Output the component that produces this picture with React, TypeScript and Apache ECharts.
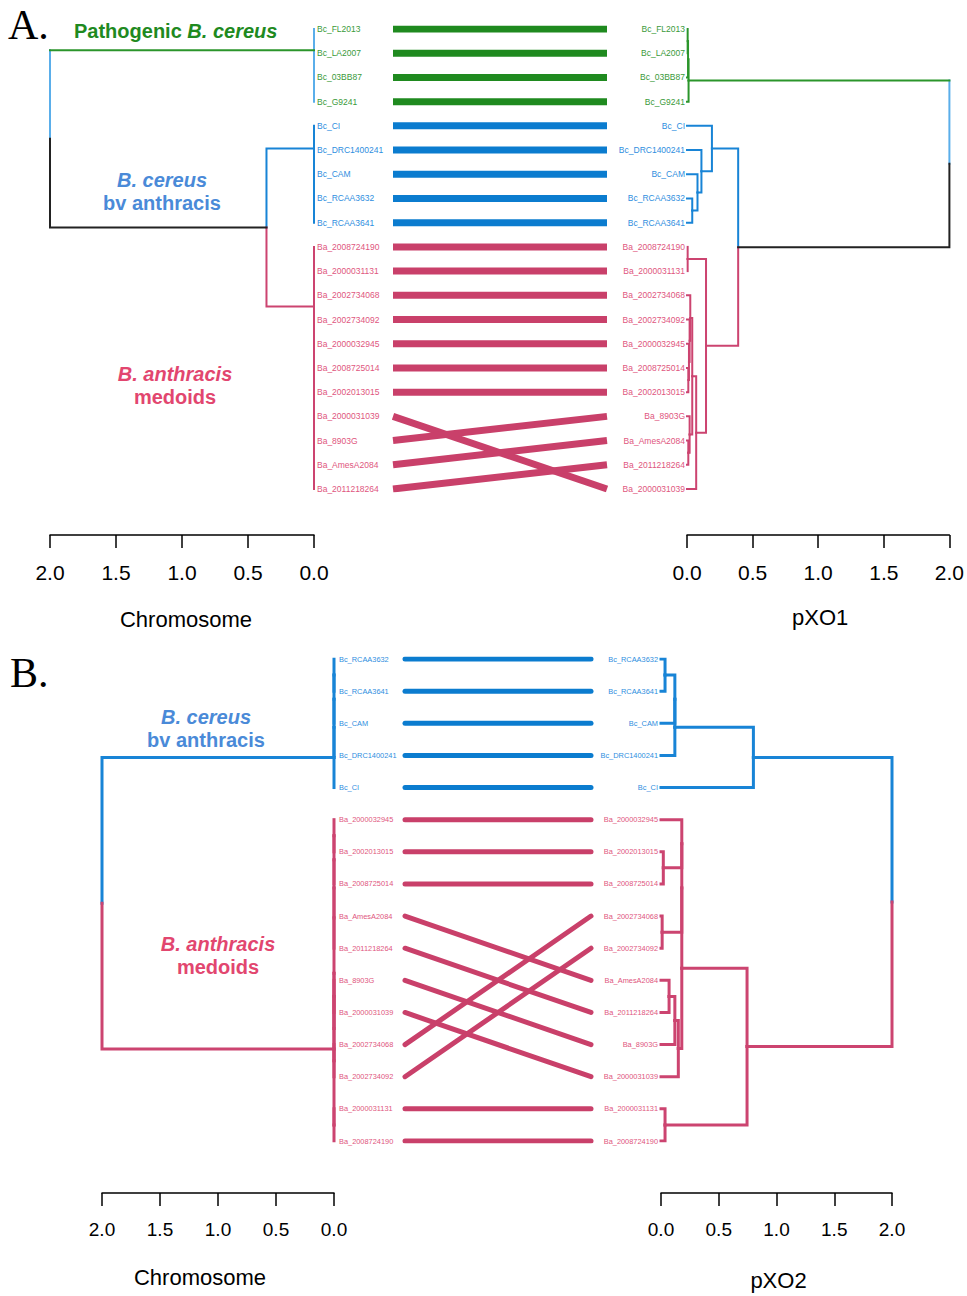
import React, { useEffect, useRef } from "react";
import * as echarts from "echarts";

const FONT = "'Liberation Sans', Arial, Helvetica, sans-serif";

// ---- leaf groups ----
const pathogenicBc = ["Bc_FL2013", "Bc_LA2007", "Bc_03BB87", "Bc_G9241"];
const bcBvAnthracis = ["Bc_CI", "Bc_DRC1400241", "Bc_CAM", "Bc_RCAA3632", "Bc_RCAA3641"];

// ---- leaf orders (top to bottom) ----
const orderA_chromosome = [
  "Bc_FL2013", "Bc_LA2007", "Bc_03BB87", "Bc_G9241", "Bc_CI", "Bc_DRC1400241", "Bc_CAM",
  "Bc_RCAA3632", "Bc_RCAA3641", "Ba_2008724190", "Ba_2000031131", "Ba_2002734068",
  "Ba_2002734092", "Ba_2000032945", "Ba_2008725014", "Ba_2002013015", "Ba_2000031039",
  "Ba_8903G", "Ba_AmesA2084", "Ba_2011218264",
];
const orderA_pXO1 = [
  "Bc_FL2013", "Bc_LA2007", "Bc_03BB87", "Bc_G9241", "Bc_CI", "Bc_DRC1400241", "Bc_CAM",
  "Bc_RCAA3632", "Bc_RCAA3641", "Ba_2008724190", "Ba_2000031131", "Ba_2002734068",
  "Ba_2002734092", "Ba_2000032945", "Ba_2008725014", "Ba_2002013015", "Ba_8903G",
  "Ba_AmesA2084", "Ba_2011218264", "Ba_2000031039",
];
const orderB_chromosome = [
  "Bc_RCAA3632", "Bc_RCAA3641", "Bc_CAM", "Bc_DRC1400241", "Bc_CI", "Ba_2000032945",
  "Ba_2002013015", "Ba_2008725014", "Ba_AmesA2084", "Ba_2011218264", "Ba_8903G",
  "Ba_2000031039", "Ba_2002734068", "Ba_2002734092", "Ba_2000031131", "Ba_2008724190",
];
const orderB_pXO2 = [
  "Bc_RCAA3632", "Bc_RCAA3641", "Bc_CAM", "Bc_DRC1400241", "Bc_CI", "Ba_2000032945",
  "Ba_2002013015", "Ba_2008725014", "Ba_2002734068", "Ba_2002734092", "Ba_AmesA2084",
  "Ba_2011218264", "Ba_8903G", "Ba_2000031039", "Ba_2000031131", "Ba_2008724190",
];

// ---- dendrogram merges: [child, child, height]; number = index of earlier merge ----
type Ref = string | number;
type Merge = [Ref, Ref, number];

const mergesA_chromosome: Merge[] = [
  ["Bc_03BB87", "Bc_G9241", 0],
  ["Bc_LA2007", 0, 0],
  ["Bc_FL2013", 1, 0],
  ["Bc_RCAA3632", "Bc_RCAA3641", 0],
  ["Bc_CAM", 3, 0],
  ["Bc_DRC1400241", 4, 0],
  ["Bc_CI", 5, 0],
  ["Ba_2008725014", "Ba_2002013015", 0],
  ["Ba_2000032945", 7, 0],
  ["Ba_2002734092", 8, 0],
  ["Ba_2002734068", 9, 0],
  ["Ba_2000031131", 10, 0],
  ["Ba_AmesA2084", "Ba_2011218264", 0],
  ["Ba_8903G", 12, 0],
  ["Ba_2000031039", 13, 0],
  [11, 14, 0],
  ["Ba_2008724190", 15, 0],
  [6, 16, 0.36],
  [2, 17, 2.0],
];

const mergesA_pXO1: Merge[] = [
  ["Bc_FL2013", "Bc_LA2007", 0.005],
  [0, "Bc_03BB87", 0.008],
  [1, "Bc_G9241", 0.012],
  ["Bc_RCAA3632", "Bc_RCAA3641", 0.04],
  ["Bc_CAM", 3, 0.08],
  ["Bc_DRC1400241", 4, 0.11],
  ["Bc_CI", 5, 0.19],
  ["Ba_2008724190", "Ba_2000031131", 0.005],
  ["Ba_2008725014", "Ba_2002013015", 0.01],
  ["Ba_2000032945", 8, 0.015],
  ["Ba_2002734092", 9, 0.02],
  ["Ba_2002734068", 10, 0.025],
  ["Ba_AmesA2084", "Ba_2011218264", 0.01],
  ["Ba_8903G", 12, 0.02],
  [11, 13, 0.04],
  [14, "Ba_2000031039", 0.07],
  [7, 15, 0.145],
  [6, 16, 0.39],
  [2, 17, 2.0],
];

const mergesB_chromosome: Merge[] = [
  ["Bc_RCAA3632", "Bc_RCAA3641", 0],
  [0, "Bc_CAM", 0],
  [1, "Bc_DRC1400241", 0],
  [2, "Bc_CI", 0],
  ["Ba_2000032945", "Ba_2002013015", 0],
  [4, "Ba_2008725014", 0],
  [5, "Ba_AmesA2084", 0],
  [6, "Ba_2011218264", 0],
  ["Ba_8903G", "Ba_2000031039", 0],
  ["Ba_2002734068", "Ba_2002734092", 0],
  [8, 9, 0],
  [7, 10, 0],
  ["Ba_2000031131", "Ba_2008724190", 0],
  [11, 12, 0],
  [3, 13, 2.0],
];

const mergesB_pXO2: Merge[] = [
  ["Bc_RCAA3632", "Bc_RCAA3641", 0.035],
  [0, "Bc_CAM", 0.12],
  [1, "Bc_DRC1400241", 0.12],
  [2, "Bc_CI", 0.8],
  ["Ba_2002013015", "Ba_2008725014", 0.02],
  ["Ba_2002734068", "Ba_2002734092", 0.01],
  ["Ba_AmesA2084", "Ba_2011218264", 0.07],
  [6, "Ba_8903G", 0.12],
  [7, "Ba_2000031039", 0.15],
  ["Ba_2000032945", 4, 0.18],
  [9, 5, 0.18],
  [10, 8, 0.18],
  ["Ba_2000031131", "Ba_2008724190", 0.035],
  [11, 12, 0.745],
  [3, 13, 2.0],
];

const distanceTicks = [0, 0.5, 1, 1.5, 2];

// ---- styling ----
const LINE: Record<string, string> = { g: "#2b952b", b: "#1884d6", r: "#cc4470", k: "#222222" };
const LIGHT_BLUE = "#5aaeea";
const BAR: Record<string, string> = { g: "#1f8a1f", b: "#0b7ccf", r: "#c9406a" };
const LABEL: Record<string, string> = { g: "#3a9a3a", b: "#2e8ee0", r: "#e0567e" };

function groupOf(name: string) {
  if (pathogenicBc.includes(name)) return "g";
  if (bcBvAnthracis.includes(name)) return "b";
  return "r";
}

function treeSeries(
  order: string[],
  merges: Merge[],
  xAxisIndex: number,
  yAxisIndex: number,
  width: number,
  lightGreen: "root" | "all"
) {
  const nodes: { y: number; h: number; c: string }[] = [];
  const info = (r: Ref) =>
    typeof r === "string" ? { y: order.indexOf(r), h: 0, c: groupOf(r) } : nodes[r];
  const out: any[] = [];
  const add = (data: number[][], color: string) =>
    out.push({
      type: "line",
      xAxisIndex,
      yAxisIndex,
      data,
      symbol: "none",
      silent: true,
      z: 3,
      lineStyle: { color, width, cap: "square", join: "miter" },
    });
  merges.forEach((m, i) => {
    const a = info(m[0]);
    const b = info(m[1]);
    const node = { y: (a.y + b.y) / 2, h: m[2], c: a.c === b.c ? a.c : "k" };
    nodes[i] = node;
    const isRoot = i === merges.length - 1;
    [a, b].forEach((ch) => {
      let vc = LINE[ch.c];
      if (ch.c === "g" && (isRoot || lightGreen === "all")) vc = LIGHT_BLUE;
      const hc = LINE[ch.c];
      if (vc === hc) {
        add([[node.h, node.y], [node.h, ch.y], [ch.h, ch.y]], hc);
      } else {
        add([[node.h, node.y], [node.h, ch.y]], vc);
        add([[node.h, ch.y], [ch.h, ch.y]], hc);
      }
    });
  });
  return out;
}

function barSeries(left: string[], right: string[], xAxisIndex: number, yAxisIndex: number, width: number, cap: string) {
  return left.map((name, i) => ({
    type: "line",
    xAxisIndex,
    yAxisIndex,
    data: [[0, i], [1, right.indexOf(name)]],
    symbol: "none",
    silent: true,
    z: 2,
    lineStyle: { color: BAR[groupOf(name)], width, cap },
  }));
}

export default function App() {
  const ref = useRef<HTMLDivElement>(null);
  useEffect(() => {
    if (!ref.current) return;
    const chart = echarts.init(ref.current, null, { renderer: "svg" });

    const grids = [
      { left: 50, top: 29, width: 264, height: 460 },
      { left: 393, top: 29, width: 214, height: 460 },
      { left: 687, top: 29, width: 264, height: 460 },
      { left: 102, top: 659, width: 232, height: 482 },
      { left: 405, top: 659, width: 186, height: 482 },
      { left: 661, top: 659, width: 231, height: 482 },
    ];

    const distAxis = (
      gridIndex: number,
      inverse: boolean,
      name: string,
      offset: number,
      fs: number,
      nameGap: number,
      namePad: number[]
    ) => ({
      type: "value",
      gridIndex,
      min: 0,
      max: 2,
      interval: 0.5,
      inverse,
      position: "bottom",
      offset,
      name,
      nameLocation: "middle",
      nameGap,
      nameTextStyle: { fontSize: 22, color: "#000", fontFamily: FONT, padding: namePad },
      axisLine: { show: true, onZero: false, lineStyle: { color: "#000", width: 1.5 } },
      axisTick: { show: true, length: 13, lineStyle: { color: "#000", width: 1.5 } },
      axisLabel: {
        fontSize: fs,
        color: "#000",
        fontFamily: FONT,
        margin: 27,
        formatter: (v: number) => (distanceTicks.includes(v) ? v.toFixed(1) : ""),
      },
      splitLine: { show: false },
    });
    const hiddenX = (gridIndex: number) => ({ type: "value", gridIndex, min: 0, max: 1, show: false });

    const xAxis = [
      distAxis(0, true, "Chromosome", 46, 21, 73, [0, 0, 0, 8]),
      hiddenX(1),
      distAxis(2, false, "pXO1", 46, 21, 71, [0, 0, 0, 4]),
      distAxis(3, true, "Chromosome", 52, 19, 73, [0, 36, 0, 0]),
      hiddenX(4),
      distAxis(5, false, "pXO2", 52, 19, 76, [0, 0, 0, 4]),
    ];

    const valY = (gridIndex: number, n: number, pos: string) => ({
      type: "value",
      gridIndex,
      min: 0,
      max: n - 1,
      inverse: true,
      show: false,
      position: pos,
    });
    const labelY = (gridIndex: number, order: string[], pos: string, margin: number, fs: number) => ({
      type: "category",
      gridIndex,
      data: order,
      inverse: true,
      boundaryGap: false,
      position: pos,
      axisLine: { show: false },
      axisTick: { show: false },
      splitLine: { show: false },
      axisLabel: {
        interval: 0,
        margin,
        fontSize: fs,
        fontFamily: FONT,
        color: (v: string) => LABEL[groupOf(v)],
      },
    });

    const yAxis = [
      valY(0, 20, "left"), // 0
      labelY(0, orderA_chromosome, "right", 3, 8.5), // 1
      valY(1, 20, "left"), // 2
      valY(2, 20, "right"), // 3
      labelY(2, orderA_pXO1, "left", 2, 8.5), // 4
      valY(3, 16, "left"), // 5
      labelY(3, orderB_chromosome, "right", 5, 7.4), // 6
      valY(4, 16, "left"), // 7
      valY(5, 16, "right"), // 8
      labelY(5, orderB_pXO2, "left", 3, 7.4), // 9
    ];

    const series = [
      ...treeSeries(orderA_chromosome, mergesA_chromosome, 0, 0, 2, "all"),
      ...barSeries(orderA_chromosome, orderA_pXO1, 1, 2, 7, "butt"),
      ...treeSeries(orderA_pXO1, mergesA_pXO1, 2, 3, 2, "root"),
      ...treeSeries(orderB_chromosome, mergesB_chromosome, 3, 5, 3, "root"),
      ...barSeries(orderB_chromosome, orderB_pXO2, 4, 7, 5, "round"),
      ...treeSeries(orderB_pXO2, mergesB_pXO2, 5, 8, 3, "root"),
    ];

    const titleText = (x: number, y: number, lines: string[], color: string, italicFirst: boolean) =>
      lines.map((t, i) => ({
        type: "text",
        x,
        y: y + i * 23,
        style: {
          text: t,
          fill: color,
          font: `${italicFirst && i === 0 ? "italic " : ""}bold 20px ${FONT}`,
          align: "center",
          verticalAlign: "middle",
        },
      }));

    const BLUE_T = "#4a8ad8";
    const RED_T = "#e2466f";

    const graphic = [
      {
        type: "text",
        x: 8,
        y: 25,
        style: { text: "A.", fill: "#000", font: "42px 'Liberation Serif', 'Times New Roman', serif", verticalAlign: "middle" },
      },
      {
        type: "text",
        x: 10,
        y: 673,
        style: { text: "B.", fill: "#000", font: "42px 'Liberation Serif', 'Times New Roman', serif", verticalAlign: "middle" },
      },
      {
        type: "text",
        x: 74,
        y: 31,
        style: {
          text: "{a|Pathogenic }{b|B. cereus}",
          verticalAlign: "middle",
          rich: {
            a: { fill: "#1f8a1f", fontSize: 20, fontWeight: "bold", fontFamily: FONT },
            b: { fill: "#1f8a1f", fontSize: 20, fontWeight: "bold", fontStyle: "italic", fontFamily: FONT },
          },
        },
      },
      ...titleText(162, 180, ["B. cereus", "bv anthracis"], BLUE_T, true),
      ...titleText(175, 374, ["B. anthracis", "medoids"], RED_T, true),
      ...titleText(206, 717, ["B. cereus", "bv anthracis"], BLUE_T, true),
      ...titleText(218, 944, ["B. anthracis", "medoids"], RED_T, true),
    ];

    chart.setOption({
      animation: false,
      backgroundColor: "#fff",
      textStyle: { fontFamily: FONT },
      grid: grids,
      xAxis,
      yAxis,
      series,
      graphic,
    });
    return () => chart.dispose();
  }, []);
  return (
    <div
      ref={ref}
      style={{ position: "absolute", left: 0, top: 0, width: 967, height: 1296, background: "#fff" }}
    />
  );
}
